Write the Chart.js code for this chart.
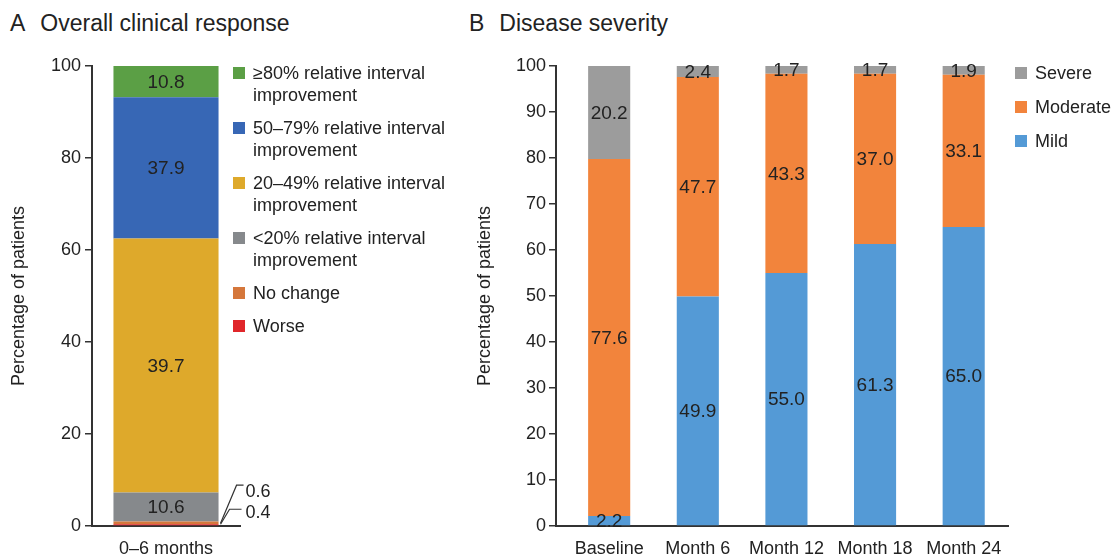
<!DOCTYPE html>
<html>
<head>
<meta charset="utf-8">
<script src="https://cdn.jsdelivr.net/npm/chart.js@4/dist/chart.umd.min.js"></script>
<style>
  html, body { margin:0; padding:0; background:#fff; }
  body { width:1115px; height:557px; position:relative; overflow:hidden; font-family:"Liberation Sans", Arial, sans-serif; color:#222; }
  .title { position:absolute; font-size:23px; line-height:23px; white-space:nowrap; }
  .title .letter { margin-right:15px; }
  canvas { position:absolute; top:0; }
  .legend { position:absolute; font-size:18px; line-height:22px; color:#222; white-space:nowrap; }
  .legend .item { display:flex; align-items:flex-start; }
  .legend .sw { width:12px; height:12px; margin-top:5px; margin-right:8px; flex:none; }
</style>
</head>
<body>
<div class="title" style="left:10px; top:12px;"><span class="letter">A</span>Overall clinical response</div>
<div class="title" style="left:469px; top:12px;"><span class="letter">B</span>Disease severity</div>
<canvas id="cA" width="470" height="557" style="left:0; width:470px; height:557px;"></canvas>
<canvas id="cB" width="675" height="557" style="left:440px; width:675px; height:557px;"></canvas>
<div id="legA" class="legend" style="left:233px; top:62px;"></div>
<div id="legB" class="legend" style="left:1015px; top:62px;"></div>
<script>
// ---------- Panel A data ----------
const responseCategories = ['0–6 months'];
const responseSeries = ['Worse', 'No change', '<20% relative interval improvement', '20–49% relative interval improvement', '50–79% relative interval improvement', '≥80% relative interval improvement'];
const responseLegendLines = [['Worse'], ['No change'], ['<20% relative interval', 'improvement'], ['20–49% relative interval', 'improvement'], ['50–79% relative interval', 'improvement'], ['≥80% relative interval', 'improvement']];
// segment heights as drawn in the picture
const responseHeights = [0.4, 0.6, 6.3, 55.2, 30.7, 6.8];
// values printed on the segments
const responseLabels = ['0.4', '0.6', '10.6', '39.7', '37.9', '10.8'];
const responseColors = ['#e0262a', '#d5773b', '#86898c', '#dea92b', '#3767b5', '#5b9f45'];
const responseTicks = [0, 20, 40, 60, 80, 100];

// ---------- Panel B data ----------
const severityCategories = ['Baseline', 'Month 6', 'Month 12', 'Month 18', 'Month 24'];
const mildValues = [2.2, 49.9, 55.0, 61.3, 65.0];
const moderateValues = [77.6, 47.7, 43.3, 37.0, 33.1];
const severeValues = [20.2, 2.4, 1.7, 1.7, 1.9];
const severityNames = ['Mild', 'Moderate', 'Severe'];
const severityColors = ['#549ad6', '#f2843c', '#9c9c9c'];
const severityTicks = [0, 10, 20, 30, 40, 50, 60, 70, 80, 90, 100];

const FONT = '"Liberation Sans", Arial, sans-serif';
const TXT = '#222';
const AX = '#333';

// ---------- legends (HTML text from arrays) ----------
function buildLegend(el, labels, colors, gap) {
  labels.forEach((lines, i) => {
    const it = document.createElement('div');
    it.className = 'item';
    it.style.marginBottom = gap + 'px';
    const sw = document.createElement('div');
    sw.className = 'sw';
    sw.style.background = colors[i];
    const tx = document.createElement('div');
    tx.innerHTML = lines.map(s => s.replace(/</g, '&lt;')).join('<br>');
    it.appendChild(sw); it.appendChild(tx);
    el.appendChild(it);
  });
}
buildLegend(document.getElementById('legA'), responseLegendLines.slice().reverse(), responseColors.slice().reverse(), 11);
buildLegend(document.getElementById('legB'), severityNames.map(s => [s]).reverse(), severityColors.slice().reverse(), 12);

// ---------- segment value labels ----------
const segLabels = {
  id: 'segLabels',
  afterDatasetsDraw(chart) {
    const ctx = chart.ctx;
    ctx.save();
    ctx.font = '19px ' + FONT;
    ctx.fillStyle = TXT;
    ctx.textAlign = 'center';
    ctx.textBaseline = 'middle';
    chart.data.datasets.forEach((ds, di) => {
      if (ds.leader) return;
      const meta = chart.getDatasetMeta(di);
      meta.data.forEach((el, i) => {
        ctx.fillText(ds.valueLabels[i], el.x, (el.y + el.base) / 2 + 1);
      });
    });
    const leaders = chart.data.datasets.map((ds, di) => ({ ds, di })).filter(o => o.ds.leader);
    if (leaders.length) {
      ctx.strokeStyle = AX;
      ctx.lineWidth = 1.2;
      ctx.textAlign = 'left';
      ctx.font = '18px ' + FONT;
      leaders.forEach(o => {
        const el = chart.getDatasetMeta(o.di).data[0];
        const xr = el.x + el.width / 2;
        const base = el.base;
        const L = o.ds.leader;
        ctx.beginPath();
        ctx.moveTo(xr + 2, base - 1);
        ctx.lineTo(xr + L.dx, base - L.dy);
        ctx.lineTo(xr + L.dx + L.run, base - L.dy);
        ctx.stroke();
        ctx.fillText(o.ds.valueLabels[0], xr + 27, base - L.dy + L.ty);
      });
    }
    ctx.restore();
  }
};

// ---------- Panel A ----------
const leaderSpec = [{ dx: 11, dy: 16, run: 12, ty: 4 }, { dx: 18, dy: 39, run: 7, ty: 7 }];
new Chart(document.getElementById('cA'), {
  type: 'bar',
  data: {
    labels: responseCategories,
    datasets: responseSeries.map((name, i) => ({
      label: name,
      data: [responseHeights[i]],
      valueLabels: [responseLabels[i]],
      backgroundColor: responseColors[i],
      borderWidth: 0,
      barPercentage: 0.71,
      categoryPercentage: 1.0,
      leader: i < 2 ? leaderSpec[i] : null
    }))
  },
  options: {
    responsive: false,
    animation: false,
    layout: { padding: { top: 66, right: 230, bottom: 0, left: 0 } },
    plugins: { legend: { display: false }, tooltip: { enabled: false } },
    scales: {
      x: {
        stacked: true,
        grid: { display: false, drawTicks: false },
        border: { display: true, color: AX, width: 2 },
        ticks: { color: TXT, font: { family: FONT, size: 18 }, padding: 12 },
        afterFit(s) { s.height = 31; }
      },
      y: {
        stacked: true,
        min: 0, max: 100,
        afterBuildTicks(s) { s.ticks = responseTicks.map(v => ({ value: v })); },
        grid: { drawOnChartArea: false, drawTicks: true, tickLength: 7, color: AX, lineWidth: 1.5 },
        border: { display: true, color: AX, width: 2 },
        ticks: { color: TXT, font: { family: FONT, size: 18 }, padding: 4 },
        title: { display: true, text: 'Percentage of patients', color: TXT, font: { family: FONT, size: 18 }, padding: { top: 8, bottom: 0 } },
        afterFit(s) { s.width = 92; }
      }
    }
  },
  plugins: [segLabels]
});

// ---------- Panel B ----------
const sevData = [mildValues, moderateValues, severeValues];
new Chart(document.getElementById('cB'), {
  type: 'bar',
  data: {
    datasets: severityNames.map((name, k) => ({
      label: name,
      data: sevData[k].map((v, i) => ({ x: i, y: v })),
      valueLabels: sevData[k].map(v => v.toFixed(1)),
      backgroundColor: severityColors[k],
      borderWidth: 0,
      barPercentage: 0.475,
      categoryPercentage: 1.0
    }))
  },
  options: {
    responsive: false,
    animation: false,
    layout: { padding: { top: 66, right: 107, bottom: 0, left: 0 } },
    plugins: { legend: { display: false }, tooltip: { enabled: false } },
    scales: {
      x: {
        type: 'linear',
        stacked: true,
        offset: false,
        min: -0.6, max: 4.5,
        afterBuildTicks(s) { s.ticks = severityCategories.map((c, i) => ({ value: i })); },
        grid: { display: false, drawTicks: false },
        border: { display: true, color: AX, width: 2 },
        ticks: { color: TXT, font: { family: FONT, size: 18 }, padding: 12, maxRotation: 0, autoSkip: false, callback: (v) => severityCategories[v] },
        afterFit(s) { s.height = 31; }
      },
      y: {
        stacked: true,
        min: 0, max: 100,
        afterBuildTicks(s) { s.ticks = severityTicks.map(v => ({ value: v })); },
        grid: { drawOnChartArea: false, drawTicks: true, tickLength: 7, color: AX, lineWidth: 1.5 },
        border: { display: true, color: AX, width: 2 },
        ticks: { color: TXT, font: { family: FONT, size: 18 }, padding: 3 },
        title: { display: true, text: 'Percentage of patients', color: TXT, font: { family: FONT, size: 18 }, padding: { top: 34, bottom: 0 } },
        afterFit(s) { s.width = 116; }
      }
    }
  },
  plugins: [segLabels]
});
</script>
</body>
</html>
